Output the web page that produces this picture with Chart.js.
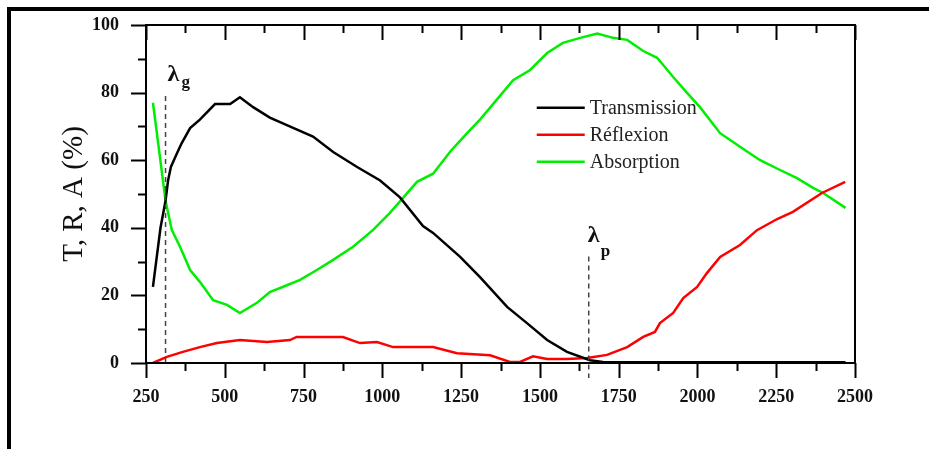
<!DOCTYPE html>
<html>
<head>
<meta charset="utf-8">
<script src="https://cdn.jsdelivr.net/npm/chart.js@4.4.0/dist/chart.umd.min.js"></script>
<style>
  html, body { margin: 0; padding: 0; background: #fff; }
  #wrap { width: 929px; height: 449px; position: relative; }
</style>
</head>
<body>
<div id="wrap"><canvas id="chart" width="929" height="449"></canvas></div>
<script>
// -------- données (longueur d'onde en nm, valeurs en %) --------
const transX = [272, 285, 296, 312, 320, 329, 348, 363, 390, 421, 469, 517, 548, 590, 643, 697, 780, 844, 920, 993, 1056, 1129, 1161, 1247, 1310, 1396, 1459, 1523, 1586, 1659, 1700, 1800, 1900, 2000, 2100, 2200, 2300, 2400, 2470];
const transY = [22.5, 32, 40, 48, 54, 58, 62, 65, 69.5, 72, 76.6, 76.6, 78.6, 75.7, 72.6, 70.4, 67, 62.4, 58, 54, 49, 40.5, 38.5, 31.4, 25.4, 16.6, 11.8, 6.8, 3.3, 0.8, 0.3, 0.2, 0.2, 0.2, 0.2, 0.2, 0.2, 0.2, 0.2];

const reflX = [272, 316, 367, 421, 475, 548, 634, 707, 728, 792, 875, 929, 983, 1034, 1078, 1161, 1237, 1342, 1405, 1437, 1478, 1523, 1586, 1650, 1713, 1777, 1828, 1865, 1881, 1923, 1955, 1999, 2030, 2072, 2135, 2189, 2253, 2303, 2395, 2469];
const reflY = [0, 1.8, 3.3, 4.7, 5.9, 6.8, 6.2, 6.8, 7.7, 7.7, 7.7, 5.9, 6.2, 4.7, 4.7, 4.7, 2.9, 2.3, 0.3, 0.3, 2, 1.2, 1.2, 1.5, 2.4, 4.7, 7.7, 9.2, 11.8, 14.8, 19.2, 22.5, 26.6, 31.4, 34.9, 39.3, 42.6, 44.7, 50.3, 53.6];

const absX = [272, 290, 312, 332, 358, 390, 421, 463, 507, 548, 602, 643, 697, 739, 792, 844, 907, 970, 1024, 1056, 1110, 1161, 1215, 1269, 1310, 1364, 1415, 1469, 1523, 1573, 1628, 1682, 1732, 1777, 1828, 1872, 1923, 1967, 2008, 2072, 2135, 2199, 2262, 2316, 2367, 2399, 2470];
const absY = [77, 64, 48, 39.3, 34.4, 27.5, 24, 18.6, 17.2, 14.8, 17.8, 21, 23, 24.6, 27.5, 30.5, 34.4, 39.3, 44.4, 47.8, 53.6, 56, 62.5, 68, 72, 78, 83.7, 86.7, 91.7, 94.7, 96.2, 97.5, 96.2, 95.6, 92.3, 90.3, 84.6, 79.9, 75.7, 68, 64, 60, 57.1, 54.7, 51.8, 50.3, 45.9];

const seriesLabels = ["Transmission", "Réflexion", "Absorption"];
const xTicks = [250, 500, 750, 1000, 1250, 1500, 1750, 2000, 2250, 2500];
const yTicks = [0, 20, 40, 60, 80, 100];
const lambdaG = 312;   // λg
const lambdaP = 1655;  // λp

const SERIF = "'Liberation Serif', 'Times New Roman', serif";

const pts = (xs, ys) => xs.map((x, i) => ({ x, y: ys[i] }));

// -------- cadre, graduations, légende, λ --------
const decor = {
  id: "decor",
  afterDatasetsDraw(chart) {
    const { ctx, chartArea: a, scales: { x, y } } = chart;
    ctx.save();

    // bordure de la page (haut + gauche)
    ctx.fillStyle = "#000";
    ctx.fillRect(7, 7, 922, 4);
    ctx.fillRect(7, 7, 4, 442);

    // cadre du graphe
    ctx.strokeStyle = "#000";
    ctx.lineWidth = 2;
    ctx.strokeRect(a.left, a.top, a.right - a.left, a.bottom - a.top);

    // graduations X (bas: vers l'extérieur, haut: vers l'intérieur)
    for (let v = 250; v <= 2500; v += 125) {
      const px = Math.round(x.getPixelForValue(v)) + 0.5;
      const major = (v % 250) === 0;
      const len = major ? 15 : 8;
      ctx.beginPath();
      ctx.moveTo(px, a.bottom); ctx.lineTo(px, a.bottom + len);
      ctx.moveTo(px, a.top); ctx.lineTo(px, a.top + len);
      ctx.stroke();
    }
    // graduations Y (gauche, vers l'extérieur)
    for (let v = 0; v <= 100; v += 10) {
      const py = Math.round(y.getPixelForValue(v)) + 0.5;
      const len = (v % 20) === 0 ? 15 : 8;
      ctx.beginPath();
      ctx.moveTo(a.left, py); ctx.lineTo(a.left - len, py);
      ctx.stroke();
    }

    // lignes pointillées λg, λp
    ctx.setLineDash([5, 4]);
    ctx.lineWidth = 1.5;
    ctx.strokeStyle = "#444";
    let gx = x.getPixelForValue(lambdaG);
    ctx.beginPath(); ctx.moveTo(gx, y.getPixelForValue(79)); ctx.lineTo(gx, a.bottom); ctx.stroke();
    let px = x.getPixelForValue(lambdaP);
    ctx.beginPath(); ctx.moveTo(px, y.getPixelForValue(31.5)); ctx.lineTo(px, a.bottom + 15); ctx.stroke();
    ctx.setLineDash([]);

    ctx.fillStyle = "#111";
    ctx.textBaseline = "alphabetic";
    ctx.textAlign = "left";
    ctx.font = "bold 24px " + SERIF;
    ctx.fillText("λ", gx + 2, 81);
    ctx.fillText("λ", px - 1, 242);
    ctx.font = "bold 17px " + SERIF;
    ctx.fillText("g", gx + 16, 87);
    ctx.fillText("p", px + 12, 256);

    // légende
    const lx = x.getPixelForValue(1490), ly0 = y.getPixelForValue(75.5), step = 27;
    chart.data.datasets.forEach((ds, i) => {
      const yy = ly0 + i * step;
      ctx.strokeStyle = ds.borderColor;
      ctx.lineWidth = 2.5;
      ctx.beginPath(); ctx.moveTo(lx, yy); ctx.lineTo(lx + 48, yy); ctx.stroke();
      ctx.fillStyle = "#222";
      ctx.font = "20px " + SERIF;
      ctx.textBaseline = "middle";
      ctx.fillText(ds.label, lx + 53, yy + 1);
    });

    ctx.restore();
  }
};

new Chart(document.getElementById("chart"), {
  type: "line",
  data: {
    datasets: [
      { label: seriesLabels[0], data: pts(transX, transY), borderColor: "#000000" },
      { label: seriesLabels[1], data: pts(reflX, reflY), borderColor: "#ff0000" },
      { label: seriesLabels[2], data: pts(absX, absY), borderColor: "#00ee00" }
    ]
  },
  options: {
    responsive: false,
    animation: false,
    devicePixelRatio: 1,
    layout: { padding: { top: 25, right: 74, left: 0, bottom: 0 } },
    elements: {
      line: { borderWidth: 2.5, tension: 0 },
      point: { radius: 0 }
    },
    plugins: { legend: { display: false }, tooltip: { enabled: false } },
    scales: {
      x: {
        type: "linear", min: 250, max: 2500,
        afterBuildTicks: (s) => { s.ticks = xTicks.map(v => ({ value: v })); },
        afterFit: (s) => { s.height = 86; s.paddingLeft = 0; s.paddingRight = 0; },
        grid: { display: false, drawTicks: false },
        border: { display: false },
        ticks: { padding: 24, color: "#111", callback: (v) => String(v),
                 font: { family: SERIF, size: 18, weight: "bold" } }
      },
      y: {
        min: 0, max: 100,
        afterBuildTicks: (s) => { s.ticks = yTicks.map(v => ({ value: v })); },
        afterFit: (s) => { s.width = 146; s.paddingTop = 0; s.paddingBottom = 0; },
        grid: { display: false, drawTicks: false },
        border: { display: false },
        ticks: { padding: 27, color: "#111", callback: (v) => String(v),
                 font: { family: SERIF, size: 18, weight: "bold" } },
        title: {
          display: true, text: "T, R, A (%)", color: "#111",
          font: { family: SERIF, size: 29 }, padding: { top: 57, bottom: 0 }
        }
      }
    }
  },
  plugins: [decor]
});
</script>
</body>
</html>
